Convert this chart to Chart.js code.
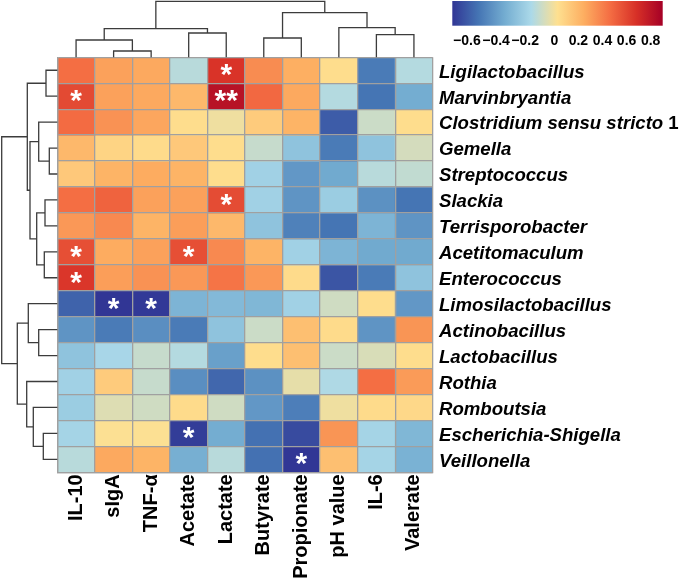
<!DOCTYPE html>
<html><head><meta charset="utf-8">
<script src="https://cdn.jsdelivr.net/npm/chart.js@4.4.1/dist/chart.umd.min.js"></script>
<style>html,body{margin:0;padding:0;background:#fff;}</style>
</head><body>
<canvas id="c" width="685" height="578"></canvas>
<script>
// ---------- data ----------
const colLabels = ['IL-10','sIgA','TNF-\u03B1','Acetate','Lactate','Butyrate','Propionate','pH value','IL-6','Valerate'];
const rowLabels = ['Ligilactobacillus','Marvinbryantia','Clostridium sensu stricto 1','Gemella','Streptococcus','Slackia','Terrisporobacter','Acetitomaculum','Enterococcus','Limosilactobacillus','Actinobacillus','Lactobacillus','Rothia','Romboutsia','Escherichia-Shigella','Veillonella'];

// correlation values, one array per row (columns in colLabels order)
const values = [
  [ 0.46, 0.29, 0.26,-0.13, 0.67, 0.36, 0.24, 0.04,-0.50,-0.14],
  [ 0.59, 0.29, 0.26, 0.20, 0.82, 0.48, 0.26,-0.14,-0.52,-0.34],
  [ 0.47, 0.34, 0.27, 0.04,-0.01, 0.12, 0.22,-0.59,-0.09, 0.04],
  [ 0.20, 0.08, 0.05, 0.13, 0.04,-0.10,-0.25,-0.50,-0.25,-0.07],
  [ 0.13, 0.22, 0.25, 0.22, 0.04,-0.19,-0.41,-0.35,-0.13,-0.11],
  [ 0.46, 0.50, 0.29, 0.29, 0.58,-0.19,-0.42,-0.21,-0.43,-0.52],
  [ 0.32, 0.37, 0.22, 0.30, 0.20,-0.25,-0.48,-0.52,-0.31,-0.42],
  [ 0.57, 0.25, 0.29, 0.57, 0.37, 0.22,-0.19,-0.31,-0.35,-0.35],
  [ 0.66, 0.30, 0.34, 0.32, 0.44, 0.32, 0.05,-0.61,-0.50,-0.25],
  [-0.57,-0.70,-0.69,-0.31,-0.29,-0.30,-0.19,-0.08, 0.04,-0.41],
  [-0.42,-0.50,-0.44,-0.50,-0.25,-0.09, 0.17, 0.05,-0.42, 0.33],
  [-0.25,-0.17,-0.10,-0.14,-0.38, 0.04, 0.17,-0.09,-0.06, 0.04],
  [-0.19, 0.12,-0.10,-0.44,-0.56,-0.43,-0.03,-0.15, 0.46, 0.31],
  [-0.21,-0.05,-0.08, 0.05,-0.08,-0.41,-0.49,-0.01, 0.05, 0.06],
  [-0.18, 0.02, 0.02,-0.68,-0.34,-0.53,-0.64, 0.33,-0.18,-0.30],
  [-0.13, 0.26, 0.22,-0.33,-0.13,-0.53,-0.70, 0.17,-0.18,-0.32]
];

// significance marks
const stars = [
  ['','','','','*','','','','',''],
  ['*','','','','**','','','','',''],
  ['','','','','','','','','',''],
  ['','','','','','','','','',''],
  ['','','','','','','','','',''],
  ['','','','','*','','','','',''],
  ['','','','','','','','','',''],
  ['*','','','*','','','','','',''],
  ['*','','','','','','','','',''],
  ['','*','*','','','','','','',''],
  ['','','','','','','','','',''],
  ['','','','','','','','','',''],
  ['','','','','','','','','',''],
  ['','','','','','','','','',''],
  ['','','','*','','','','','',''],
  ['','','','','','','*','','','']
];

// hierarchical clustering (hclust style: negative = leaf, positive = earlier merge)
const colMerge  = [[-2,-3],[-1,1],[-4,-5],[2,3],[-6,-7],[-9,-10],[-8,6],[5,7],[4,8]];
const colHeight = [6.3, 17.3, 24.3, 28.7, 19.3, 22.7, 29.7, 44.7, 56];
const rowMerge  = [[-1,-2],[-4,-5],[-3,2],[-6,-7],[-8,-9],[4,5],[3,6],[1,7],[-11,-12],[-10,9],[-15,-16],[-14,11],[-13,12],[10,13],[8,14]];
const rowHeight = [11.3, 8, 18.6, 12.3, 13, 20.6, 27.3, 30, 18.6, 29, 14, 24, 30.6, 40, 55.6];

// colour scale (diverging, zero placed at zeroFrac of the key)
const paletteColors = ['#313695','#4575b4','#74add1','#abd9e9','#fee090','#fdae61','#f46d43','#d73027','#a50026'];
const colorMin = -0.70, colorMax = 0.90, zeroFrac = 0.485;
const legendTicks = [-0.6,-0.4,-0.2,0,0.2,0.4,0.6,0.8];

// ---------- helpers ----------
const FONT = "'Liberation Sans', Arial, Helvetica, sans-serif";
function hexToRgb(h){ return [parseInt(h.slice(1,3),16),parseInt(h.slice(3,5),16),parseInt(h.slice(5,7),16)]; }
const palRgb = paletteColors.map(hexToRgb);
function fracFor(v){
  const t = v < 0 ? zeroFrac * (1 - v / colorMin) : zeroFrac + (1 - zeroFrac) * v / colorMax;
  return Math.max(0, Math.min(1, t));
}
function colorFor(v){
  const p = fracFor(v) * (palRgb.length - 1);
  const i = Math.min(Math.floor(p), palRgb.length - 2);
  const f = p - i;
  const a = palRgb[i], b = palRgb[i+1];
  const c = a.map((x,k) => Math.round(x + (b[k]-x)*f));
  return 'rgb(' + c.join(',') + ')';
}

const datasets = rowLabels.map((name, r) => ({
  label: name,
  data: colLabels.map(() => 1),
  backgroundColor: values[r].map(colorFor),
  borderWidth: 0,
  barPercentage: 1,
  categoryPercentage: 1
}));

const GRID = '#a0a0a0';

const extras = {
  id: 'heatExtras',
  afterDraw(chart){
    const {ctx, chartArea: ca, scales: {x, y}} = chart;
    ctx.save();
    // significance stars
    ctx.fillStyle = '#ffffff';
    ctx.font = 'bold 30px ' + FONT;
    ctx.textAlign = 'center';
    ctx.textBaseline = 'alphabetic';
    stars.forEach((row, r) => row.forEach((m, c) => {
      if (!m) return;
      const mt = ctx.measureText(m);
      const cx = x.getPixelForValue(c);
      const cy = y.getPixelForValue(r + 0.5);
      ctx.fillText(m, cx, cy + (mt.actualBoundingBoxAscent - mt.actualBoundingBoxDescent)/2);
    }));

    // dendrograms
    ctx.strokeStyle = '#3c3c3c';
    ctx.lineWidth = 1.3;
    function dendro(merge, heights, leafPos, pt){
      const nodes = [];
      const get = id => id < 0 ? {p: leafPos(-id-1), h: 0} : nodes[id-1];
      merge.forEach((m, i) => {
        const a = get(m[0]), b = get(m[1]), h = heights[i];
        ctx.beginPath();
        ctx.moveTo(...pt(a.p, a.h));
        ctx.lineTo(...pt(a.p, h));
        ctx.lineTo(...pt(b.p, h));
        ctx.lineTo(...pt(b.p, b.h));
        ctx.stroke();
        nodes.push({p: (a.p + b.p)/2, h});
      });
    }
    const colK = (ca.top - 1.3) / Math.max(...colHeight);
    dendro(colMerge, colHeight, j => x.getPixelForValue(j), (p, h) => [p, ca.top - h*colK]);
    const rowK = (ca.left - 1.7) / Math.max(...rowHeight);
    dendro(rowMerge, rowHeight, i => y.getPixelForValue(i + 0.5), (p, h) => [ca.left - h*rowK, p]);

    // row labels (italic genus names, upright trailing numbers)
    ctx.fillStyle = '#000';
    ctx.textAlign = 'left';
    ctx.textBaseline = 'alphabetic';
    rowLabels.forEach((lab, i) => {
      const yy = y.getPixelForValue(i + 0.5) + 7.3;
      const xx = ca.right + 6.3;
      const mm = lab.match(/^(.*?)(\s\d+)$/);
      const ital = mm ? mm[1] : lab;
      ctx.font = 'italic bold 18.6px ' + FONT;
      ctx.fillText(ital, xx, yy);
      if (mm){
        const w = ctx.measureText(ital).width;
        ctx.font = 'bold 18.6px ' + FONT;
        ctx.fillText(mm[2], xx + w, yy);
      }
    });

    // colour key
    const bx0 = ca.right + 19.6, bx1 = chart.width - 22.3, by0 = 1, by1 = 25.7;
    const g = ctx.createLinearGradient(bx0, 0, bx1, 0);
    paletteColors.forEach((c, i) => g.addColorStop(i/(paletteColors.length-1), c));
    ctx.fillStyle = g;
    ctx.fillRect(bx0, by0, bx1 - bx0, by1 - by0);
    ctx.fillStyle = '#000';
    ctx.font = 'bold 14px ' + FONT;
    ctx.textAlign = 'center';
    legendTicks.forEach(v => {
      const px = bx0 + fracFor(v) * (bx1 - bx0);
      const txt = (v < 0 ? '\u2212' : '') + (v === 0 ? '0' : Math.abs(v).toFixed(1));
      ctx.fillText(txt, px, 45);
    });
    ctx.restore();
  }
};

Chart.defaults.font.family = FONT;
new Chart(document.getElementById('c'), {
  type: 'bar',
  data: { labels: colLabels, datasets },
  options: {
    responsive: false,
    animation: false,
    events: [],
    layout: { padding: { left: 57.3, top: 57.3, right: 252.3, bottom: 0 } },
    plugins: { legend: { display: false }, tooltip: { enabled: false } },
    scales: {
      x: {
        stacked: true,
        offset: true,
        grid: { display: true, offset: true, color: GRID, lineWidth: 1.3, drawTicks: false, z: 1 },
        border: { display: true, color: GRID, width: 1.3, z: 1 },
        ticks: { autoSkip: false, maxRotation: 90, minRotation: 90, padding: 2, color: '#000', font: { size: 20, weight: 'bold' } },
        afterFit(s){ s.height = 105.7; }
      },
      y: {
        stacked: true,
        reverse: true,
        min: 0, max: rowLabels.length,
        ticks: { display: false, stepSize: 1 },
        grid: { display: true, color: GRID, lineWidth: 1.3, drawTicks: false, z: 1 },
        border: { display: true, color: GRID, width: 1.3, z: 1 },
        afterFit(s){ s.width = 0; }
      }
    }
  },
  plugins: [extras]
});
</script>
</body></html>
